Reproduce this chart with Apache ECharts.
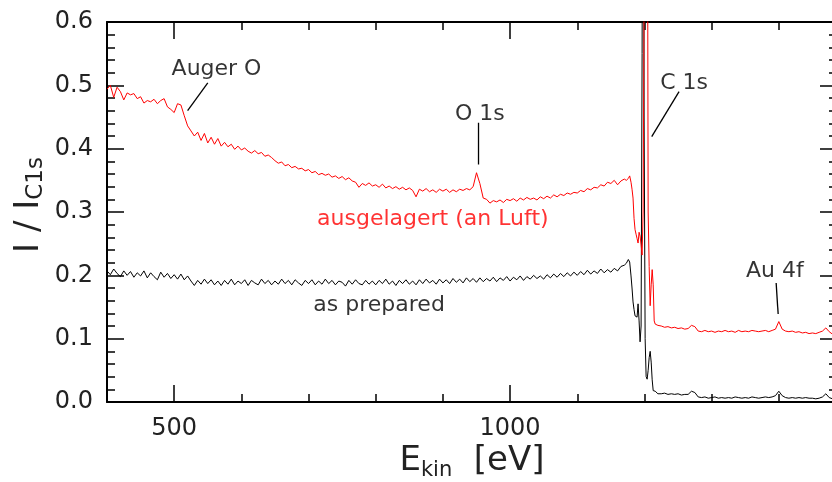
<!DOCTYPE html>
<html>
<head>
<meta charset="utf-8">
<script src="https://cdn.jsdelivr.net/npm/echarts@6.0.0/dist/echarts.min.js"></script>
<style>
  html, body { margin: 0; padding: 0; overflow: hidden; background: #fff; }
  #chart { width: 840px; height: 482px; }
</style>
</head>
<body>
<div id="chart"></div>
<script>
  // sampling grid of the smooth parts (eV)
  const lowStart = 400, lowStep = 5;      // 400 .. 1170
  const highStart = 1225, highStep = 5;   // 1225 .. 1485

  // ausgelagert (an Luft), 400..1170 eV
  const redLow = [
    0.494, 0.500, 0.481, 0.497, 0.490, 0.477, 0.488, 0.485, 0.487, 0.479,
    0.482, 0.472, 0.476, 0.474, 0.478, 0.471, 0.476, 0.479, 0.466, 0.462,
    0.457, 0.471, 0.469, 0.452, 0.436, 0.428, 0.420, 0.426, 0.413, 0.424,
    0.409, 0.418, 0.407, 0.416, 0.404, 0.410, 0.403, 0.407, 0.399, 0.404,
    0.398, 0.401, 0.396, 0.393, 0.397, 0.392, 0.394, 0.388, 0.390, 0.386,
    0.381, 0.377, 0.379, 0.373, 0.375, 0.370, 0.372, 0.368, 0.369, 0.365,
    0.367, 0.362, 0.364, 0.359, 0.361, 0.358, 0.360, 0.355, 0.357, 0.353,
    0.356, 0.351, 0.354, 0.349, 0.347, 0.339, 0.345, 0.342, 0.346, 0.341,
    0.343, 0.339, 0.344, 0.338, 0.341, 0.337, 0.340, 0.336, 0.339, 0.335,
    0.338, 0.334, 0.324, 0.336, 0.333, 0.337, 0.332, 0.335, 0.331, 0.336,
    0.333, 0.336, 0.331, 0.335, 0.332, 0.336, 0.334, 0.337, 0.335, 0.340,
    0.362, 0.345, 0.322, 0.320, 0.314, 0.318, 0.316, 0.319, 0.315, 0.320,
    0.318, 0.321, 0.317, 0.322, 0.319, 0.323, 0.320, 0.322, 0.319, 0.324,
    0.321, 0.325, 0.322, 0.327, 0.324, 0.328, 0.326, 0.330, 0.328, 0.331,
    0.330, 0.334, 0.332, 0.337, 0.335, 0.339, 0.338, 0.343, 0.341, 0.347,
    0.345, 0.350, 0.343, 0.349, 0.352
  ];

  // as prepared, 400..1170 eV
  const blackLow = [
    0.207, 0.201, 0.210, 0.203, 0.198, 0.207, 0.200, 0.206, 0.197, 0.204,
    0.199, 0.207, 0.196, 0.204, 0.198, 0.193, 0.205, 0.197, 0.203, 0.195,
    0.201, 0.194, 0.202, 0.193, 0.199, 0.191, 0.184, 0.192, 0.186, 0.194,
    0.187, 0.193, 0.185, 0.191, 0.184, 0.192, 0.186, 0.194, 0.185, 0.191,
    0.187, 0.193, 0.184, 0.192, 0.188, 0.185, 0.194, 0.187, 0.192, 0.185,
    0.191, 0.186, 0.194, 0.187, 0.192, 0.185, 0.193, 0.188, 0.184, 0.192,
    0.187, 0.193, 0.185, 0.191, 0.186, 0.194, 0.187, 0.192, 0.185, 0.191,
    0.189, 0.183, 0.192, 0.186, 0.193, 0.187, 0.185, 0.192, 0.186, 0.191,
    0.185, 0.192, 0.187, 0.194, 0.186, 0.191, 0.184, 0.192, 0.187, 0.193,
    0.186, 0.191, 0.185, 0.193, 0.187, 0.194, 0.188, 0.192, 0.186, 0.194,
    0.188, 0.193, 0.187, 0.195, 0.189, 0.194, 0.188, 0.196, 0.190, 0.195,
    0.189, 0.196, 0.190, 0.195, 0.191, 0.197, 0.190, 0.196, 0.192, 0.198,
    0.191, 0.197, 0.193, 0.199, 0.192, 0.198, 0.194, 0.200, 0.195, 0.199,
    0.194, 0.201, 0.196, 0.202, 0.197, 0.203, 0.198, 0.204, 0.199, 0.205,
    0.200, 0.206, 0.201, 0.208, 0.202, 0.207, 0.203, 0.210, 0.204, 0.209,
    0.205, 0.211, 0.207, 0.214, 0.216
  ];

  // C 1s edge, finer steps
  const energyEdge = [1173, 1176, 1178, 1180, 1181.5, 1183, 1184.5, 1186, 1187.5, 1189,
    1190.5, 1192, 1193.5, 1195, 1196.5, 1198, 1199.5, 1201, 1202.5, 1204,
    1205.5, 1207, 1208.5, 1210, 1211.5, 1213, 1214.5, 1216, 1218, 1220, 1222];
  const redEdge = [0.350, 0.353, 0.357, 0.347, 0.336, 0.322, 0.290, 0.272, 0.265, 0.258,
    0.251, 0.268, 0.262, 0.248, 0.232, 0.300, 0.650, 1.600, 1.700, 1.100,
    0.300, 0.214, 0.152, 0.185, 0.209, 0.185, 0.128, 0.123, 0.124, 0.121, 0.122];
  const blackEdge = [0.219, 0.225, 0.221, 0.199, 0.180, 0.158, 0.146, 0.136, 0.133, 0.134,
    0.155, 0.128, 0.095, 0.120, 0.550, 1.400, 0.450, 0.100, 0.040, 0.036,
    0.050, 0.070, 0.080, 0.063, 0.035, 0.018, 0.015, 0.017, 0.016, 0.013, 0.014];

  // 1225..1485 eV
  const redHigh = [
    0.120, 0.118, 0.119, 0.117, 0.118, 0.116, 0.117, 0.115, 0.116, 0.121,
    0.119, 0.112, 0.111, 0.113, 0.111, 0.112, 0.110, 0.112, 0.111, 0.113,
    0.111, 0.112, 0.110, 0.113, 0.111, 0.112, 0.111, 0.113, 0.112, 0.111,
    0.112, 0.113, 0.111, 0.113, 0.115, 0.127, 0.115, 0.112, 0.111, 0.112,
    0.110, 0.111, 0.109, 0.110, 0.108, 0.109, 0.108, 0.110, 0.112, 0.117,
    0.111, 0.107, 0.106
  ];
  const blackHigh = [
    0.013, 0.014, 0.012, 0.013, 0.012, 0.013, 0.011, 0.012, 0.012, 0.017,
    0.015, 0.008, 0.007, 0.008, 0.006, 0.007, 0.008, 0.006, 0.007, 0.006,
    0.007, 0.006, 0.008, 0.007, 0.006, 0.007, 0.006, 0.008, 0.007, 0.006,
    0.007, 0.008, 0.007, 0.008, 0.010, 0.017, 0.010, 0.007, 0.006, 0.007,
    0.006, 0.007, 0.006, 0.007, 0.006, 0.006, 0.005, 0.006, 0.008, 0.013,
    0.007, 0.005, 0.005
  ];

  const xMajorTicks = [500, 1000];
  const xMinorTicks = [600, 700, 800, 900, 1100, 1200, 1300, 1400];
  const yTicks = [0, 0.1, 0.2, 0.3, 0.4, 0.5, 0.6];

  // annotations (data coordinates)
  const noteTexts = ['Auger O', 'O 1s', 'C 1s', 'Au 4f', 'ausgelagert (an Luft)', 'as prepared'];
  const notePos = [[563, 0.526], [955, 0.455], [1259, 0.504], [1394, 0.207], [885, 0.288], [805, 0.152]];
  const noteColors = ['#000', '#000', '#000', '#000', '#ff0000', '#000'];
  const pointers = [
    [[550, 0.504], [520, 0.460]],
    [[953, 0.441], [953, 0.375]],
    [[1251.5, 0.490], [1210.8, 0.419]],
    [[1396, 0.188], [1399, 0.139]]
  ];

  const FONT = 'DejaVu Sans';

  function buildSeries(low, edge, high) {
    const out = [];
    low.forEach((v, i) => out.push([lowStart + i * lowStep, v]));
    edge.forEach((v, i) => out.push([energyEdge[i], v]));
    high.forEach((v, i) => out.push([highStart + i * highStep, v]));
    return out;
  }

  const chart = echarts.init(document.getElementById('chart'), null, {renderer: 'canvas'});

  const axisLine = {show: true, lineStyle: {color: '#000', width: 2}};
  const xBase = {type: 'value', min: 400, max: 1486.6, splitLine: {show: false}};

  const series = [
    {
      name: 'as prepared', type: 'line', showSymbol: false, symbol: 'none',
      data: buildSeries(blackLow, blackEdge, blackHigh),
      lineStyle: {color: '#000', width: 1}, clip: true
    },
    {
      name: 'ausgelagert', type: 'line', showSymbol: false, symbol: 'none',
      data: buildSeries(redLow, redEdge, redHigh),
      lineStyle: {color: '#ff0000', width: 1}, clip: true
    }
  ];

  pointers.forEach(seg => {
    series.push({
      type: 'line', symbol: 'none', silent: true, data: seg,
      lineStyle: {color: '#000', width: 1.3}
    });
  });

  series.push({
    type: 'scatter', symbolSize: 1, silent: true,
    itemStyle: {color: 'rgba(0,0,0,0)'},
    data: noteTexts.map((t, i) => ({
      name: t, value: notePos[i],
      label: {color: noteColors[i]}
    })),
    label: {
      show: true, position: 'inside', formatter: p => p.name,
      fontFamily: FONT, fontSize: 22, color: '#000'
    }
  });

  chart.setOption({
    animation: false,
    backgroundColor: '#fff',
    grid: {left: 107, right: 3, top: 22, bottom: 80},
    xAxis: [
      {
        ...xBase, position: 'bottom', axisLine,
        axisTick: {show: true, inside: true, length: 17, customValues: xMajorTicks, lineStyle: {color: '#000', width: 1.5}},
        axisLabel: {customValues: xMajorTicks, formatter: v => String(v), fontFamily: FONT, fontSize: 24, color: '#222', margin: 15}
      },
      {
        ...xBase, position: 'bottom', axisLine: {show: false},
        axisTick: {show: true, inside: true, length: 8, customValues: xMinorTicks, lineStyle: {color: '#000', width: 1.5}},
        axisLabel: {show: false}
      },
      {
        ...xBase, position: 'top', axisLine,
        axisTick: {show: true, inside: true, length: 17, customValues: xMajorTicks, lineStyle: {color: '#000', width: 1.5}},
        axisLabel: {show: false}
      },
      {
        ...xBase, position: 'top', axisLine: {show: false},
        axisTick: {show: true, inside: true, length: 8, customValues: xMinorTicks, lineStyle: {color: '#000', width: 1.5}},
        axisLabel: {show: false}
      }
    ],
    yAxis: [
      {
        type: 'value', min: 0, max: 0.6, interval: 0.1, position: 'left', axisLine,
        splitLine: {show: false},
        axisTick: {show: true, inside: true, length: 17, customValues: yTicks, lineStyle: {color: '#000', width: 1.5}},
        minorTick: {show: true, splitNumber: 5, length: 8, lineStyle: {color: '#000', width: 1.5}},
        axisLabel: {customValues: yTicks, formatter: v => v.toFixed(1), fontFamily: FONT, fontSize: 24, color: '#222', margin: 14}
      },
      {
        type: 'value', min: 0, max: 0.6, interval: 0.1, position: 'right', axisLine,
        splitLine: {show: false},
        axisTick: {show: true, inside: true, length: 17, lineStyle: {color: '#000', width: 1.5}},
        minorTick: {show: true, splitNumber: 5, length: 8, lineStyle: {color: '#000', width: 1.5}},
        axisLabel: {show: false}
      }
    ],
    graphic: [
      {
        type: 'text', x: 472, y: 461,
        style: {
          text: '{m|E}{s|kin}{m|  [eV]}',
          align: 'center', verticalAlign: 'middle',
          rich: {
            m: {fontFamily: FONT, fontSize: 34, lineHeight: 40, fill: '#222'},
            s: {fontFamily: FONT, fontSize: 21, lineHeight: 21, verticalAlign: 'bottom', fill: '#222'}
          }
        }
      },
      {
        type: 'text', x: 29, y: 205, rotation: Math.PI / 2,
        style: {
          text: '{m|I / I}{s|C1s}',
          align: 'center', verticalAlign: 'middle',
          rich: {
            m: {fontFamily: FONT, fontSize: 34, lineHeight: 38, fill: '#222'},
            s: {fontFamily: FONT, fontSize: 23, lineHeight: 23, verticalAlign: 'bottom', fill: '#222'}
          }
        }
      }
    ],
    series
  });
</script>
</body>
</html>
